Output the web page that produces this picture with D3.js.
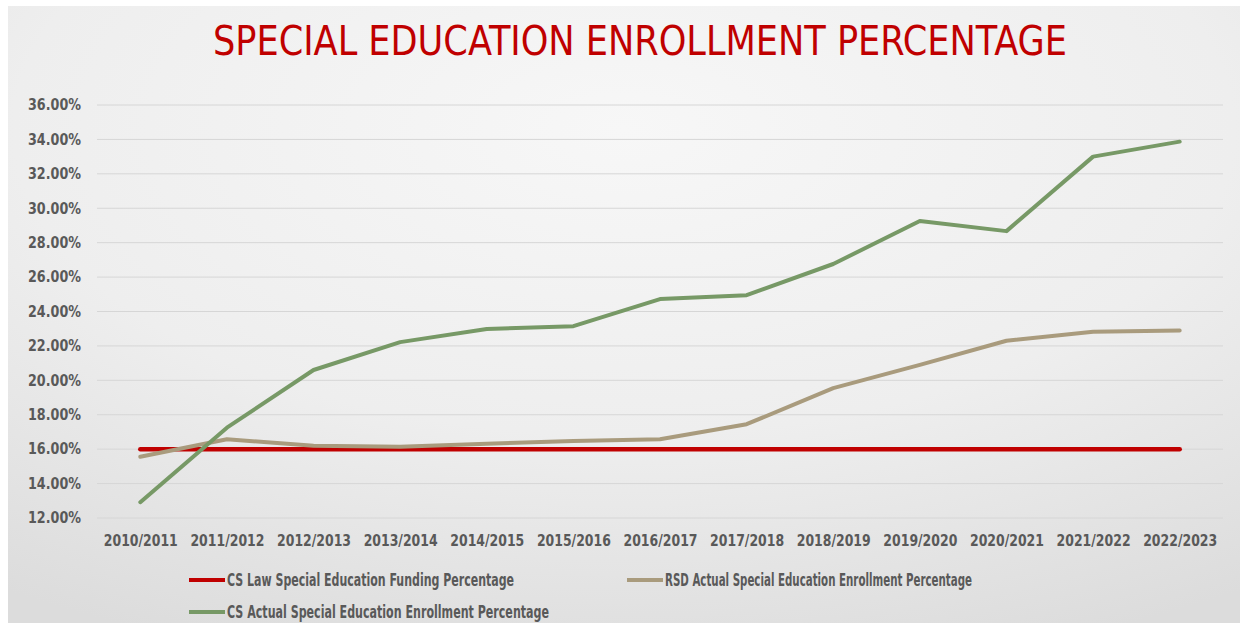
<!DOCTYPE html>
<html>
<head>
<meta charset="utf-8">
<script src="https://cdn.jsdelivr.net/npm/d3@7"></script>
<style>
  body { margin: 0; background: #fff; }
  svg { display: block; }
</style>
</head>
<body>
<div id="chart"></div>
<script>
// chart data
const years = ['2010/2011', '2011/2012', '2012/2013', '2013/2014', '2014/2015', '2015/2016', '2016/2017',
  '2017/2018', '2018/2019', '2019/2020', '2020/2021', '2021/2022', '2022/2023']
const lawFunding = [16, 16, 16, 16, 16, 16, 16, 16, 16, 16, 16, 16, 16]
const rsdActual = [15.56, 16.58, 16.2, 16.14, 16.32, 16.47, 16.58, 17.45, 19.55, 20.9, 22.3, 22.82, 22.9]
const csActual = [12.92, 17.25, 20.6, 22.22, 22.98, 23.15, 24.72, 24.95, 26.76, 29.26, 28.67, 33.0, 33.87]
const yTicks = [12, 14, 16, 18, 20, 22, 24, 26, 28, 30, 32, 34, 36]

const series = [
  { name: 'CS Law Special Education Funding Percentage', values: lawFunding, color: '#c00000', width: 4.5 },
  { name: 'RSD Actual Special Education Enrollment Percentage', values: rsdActual, color: '#a99b7d', width: 4 },
  { name: 'CS Actual Special Education Enrollment Percentage', values: csActual, color: '#779966', width: 4 }
]

const width = 1247
const height = 623
const labelFont = '"Liberation Sans Narrow", "DejaVu Sans Condensed", "Roboto", sans-serif'

const svg = d3.select('#chart').append('svg')
  .attr('width', width)
  .attr('height', height)

const defs = svg.append('defs')
const grad = defs.append('radialGradient')
  .attr('id', 'bg')
  .attr('cx', '50%').attr('cy', '20%').attr('r', '90%')
grad.append('stop').attr('offset', '0%').attr('stop-color', '#f7f7f7')
grad.append('stop').attr('offset', '55%').attr('stop-color', '#eeeeee')
grad.append('stop').attr('offset', '100%').attr('stop-color', '#dcdcdc')

svg.append('rect')
  .attr('x', 8).attr('y', 6)
  .attr('width', 1232).attr('height', height - 6)
  .attr('fill', 'url(#bg)')

// title
svg.append('text')
  .attr('x', 640).attr('y', 55)
  .attr('text-anchor', 'middle')
  .attr('fill', '#c00000')
  .attr('font-family', '"DejaVu Sans Condensed", "Liberation Sans Narrow", sans-serif')
  .attr('font-size', 40)
  .attr('textLength', 854)
  .attr('lengthAdjust', 'spacingAndGlyphs')
  .text('SPECIAL EDUCATION ENROLLMENT PERCENTAGE')

const x = d3.scalePoint()
  .domain(years)
  .range([97, 1223])
  .padding(0.5)

const y = d3.scaleLinear()
  .domain([12, 36])
  .range([518, 105])

// gridlines
svg.append('g')
  .selectAll('line')
  .data(yTicks)
  .join('line')
  .attr('x1', 97).attr('x2', 1223)
  .attr('y1', d => y(d)).attr('y2', d => y(d))
  .attr('stroke', '#d6d6d6')
  .attr('stroke-width', 1)

// y axis labels
const yAxis = svg.append('g')
  .attr('transform', 'translate(81,0)')
  .call(d3.axisLeft(y).tickValues(yTicks).tickSize(0).tickPadding(0)
    .tickFormat(d => d.toFixed(2) + '%'))
yAxis.select('.domain').remove()
yAxis.selectAll('text')
  .attr('fill', '#595959')
  .attr('font-family', labelFont)
  .attr('font-weight', 'bold')
  .attr('font-size', 15)
  .attr('textLength', 53)
  .attr('lengthAdjust', 'spacingAndGlyphs')

// x axis labels
const xAxis = svg.append('g')
  .attr('transform', 'translate(0,535)')
  .call(d3.axisBottom(x).tickSize(0).tickPadding(0))
xAxis.select('.domain').remove()
xAxis.selectAll('text')
  .attr('fill', '#595959')
  .attr('font-family', labelFont)
  .attr('font-weight', 'bold')
  .attr('font-size', 16)
  .attr('dy', '0.71em')
  .attr('textLength', 74)
  .attr('lengthAdjust', 'spacingAndGlyphs')

// lines
const line = d3.line()
  .x((d, i) => x(years[i]))
  .y(d => y(d))

svg.append('g')
  .selectAll('path')
  .data(series)
  .join('path')
  .attr('d', d => line(d.values))
  .attr('fill', 'none')
  .attr('stroke', d => d.color)
  .attr('stroke-width', d => d.width)
  .attr('stroke-linejoin', 'round')
  .attr('stroke-linecap', 'round')

// legend
const legendPos = [[189, 580], [627, 580], [189, 612]]
const legendLen = [287, 307, 322]
const legend = svg.append('g')
  .selectAll('g')
  .data(series)
  .join('g')
  .attr('transform', (d, i) => `translate(${legendPos[i][0]},${legendPos[i][1]})`)
legend.append('line')
  .attr('x1', 0).attr('x2', 36)
  .attr('stroke', d => d.color)
  .attr('stroke-width', 4)
legend.append('text')
  .attr('x', 38)
  .attr('dy', '0.35em')
  .attr('fill', '#595959')
  .attr('font-family', labelFont)
  .attr('font-weight', 'bold')
  .attr('font-size', 17)
  .attr('textLength', (d, i) => legendLen[i])
  .attr('lengthAdjust', 'spacingAndGlyphs')
  .text(d => d.name)
</script>
</body>
</html>
